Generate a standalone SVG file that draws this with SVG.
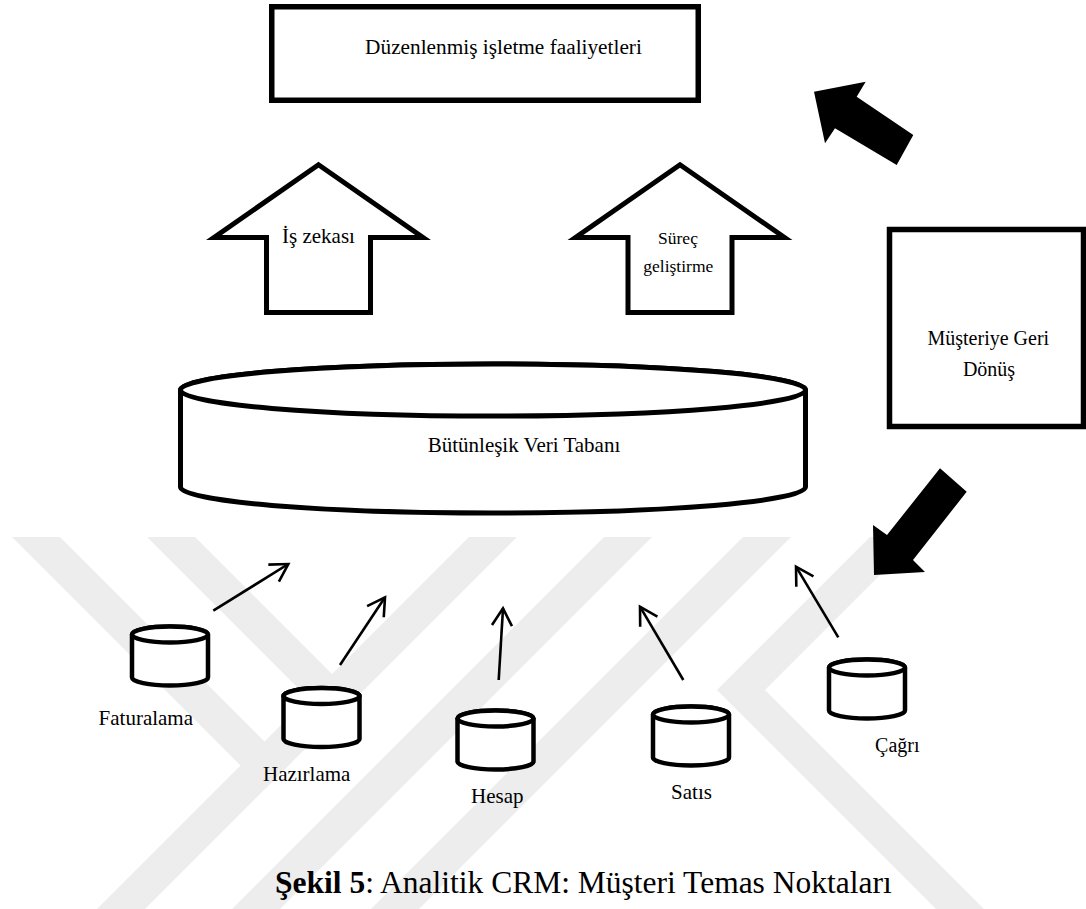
<svg xmlns="http://www.w3.org/2000/svg" xmlns:xlink="http://www.w3.org/1999/xlink" width="1086" height="909" viewBox="0 0 1086 909" font-family="'Liberation Serif', 'DejaVu Serif', serif">
  <style>
    .wm { fill: #ededed; }
    .frame { fill: #ffffff; stroke: #000000; stroke-width: 5.5; }
    .block { fill: #ffffff; stroke: #000000; stroke-width: 5; }
    .cyl { fill: #ffffff; stroke: #000000; stroke-width: 4.5; }
    .solid { fill: #000000; }
    .conn { fill: none; stroke: #000000; stroke-width: 2.6; marker-end: url(#open); }
    .lbl { font-family: 'Liberation Serif', 'DejaVu Serif', serif; fill: #000000; }
    .t21 { font-size: 21px; }
    .t20 { font-size: 20px; }
    .t17 { font-size: 17.5px; }
    .mid { text-anchor: middle; }
  </style>
  <defs>
    <marker id="open" markerUnits="userSpaceOnUse" markerWidth="24" markerHeight="24" viewBox="-20 -12 24 24" refX="0" refY="0" orient="auto">
      <path d="M-17.3,-10 L0,0 L-17.3,10" fill="none" stroke="#000000" stroke-width="2.6"/>
    </marker>
    <!-- small data store; origin at the centre of the top ellipse -->
    <g id="store">
      <path class="cyl" d="M-38,0 A38,8 0 0 1 38,0 L38,43 A38,8 0 0 1 -38,43 Z"/>
      <ellipse class="cyl" cx="0" cy="0" rx="38" ry="8"/>
    </g>
  </defs>

  <rect x="0" y="0" width="1086" height="909" fill="#ffffff"/>

  <!-- background stripes -->
  <g id="watermark">
    <polygon class="wm" points="469,537 517,537 145,909 97,909"/>
    <polygon class="wm" points="604,537 652,537 280,909 232,909"/>
    <polygon class="wm" points="743,537 791,537 419,909 371,909"/>
    <polygon class="wm" points="12,537 60,537 288.5,765.5 264.5,789.5"/>
    <polygon class="wm" points="147,537 195,537 356,698 332,722"/>
    <polygon class="wm" points="870,537 918,537 765,690 984,909 936,909 717,690"/>
  </g>

  <g id="activities">
    <rect class="frame" x="271.75" y="6.75" width="426.5" height="93.5"/>
    <text x="503.5" y="54" class="lbl mid" font-size="21.3">Düzenlenmiş işletme faaliyetleri</text>
  </g>

  <g id="business-intelligence">
    <polygon class="block" points="318.5,164.7 423,237.5 370.5,237.5 370.5,312.5 266.5,312.5 266.5,237.5 214,237.5"/>
    <text x="318.5" y="243.3" class="lbl mid t21">İş zekası</text>
  </g>

  <g id="process-improvement">
    <polygon class="block" points="680,164.7 784.5,237.5 732,237.5 732,312.5 628,312.5 628,237.5 575.5,237.5"/>
    <text x="678" y="244" class="lbl mid t17">Süreç</text>
    <text x="678.3" y="272" class="lbl mid t17">geliştirme</text>
  </g>

  <g id="integrated-db">
    <path class="block" d="M180.5,390 A312.5,26 0 0 1 805.5,390 L805.5,487 A312.5,26 0 0 1 180.5,487 Z"/>
    <ellipse class="block" cx="493" cy="390" rx="312.5" ry="26"/>
    <text x="524" y="452" class="lbl mid t21">Bütünleşik Veri Tabanı</text>
  </g>

  <g id="customer-return">
    <rect class="frame" x="889.5" y="229.5" width="194" height="197"/>
    <text x="988.3" y="345" class="lbl mid t20">Müşteriye Geri</text>
    <text x="989" y="376" class="lbl mid t20">Dönüş</text>
  </g>

  <g id="feedback-arrows">
    <polygon class="solid" points="814,91.7 865.7,81.7 856.7,96.7 913.3,135 896.7,165 835,128.3 825,143.3"/>
    <polygon class="solid" points="940,468.3 966.7,491.7 913,560 925,572 874,575 873,525 887,535"/>
  </g>

  <g id="billing">
    <use xlink:href="#store" href="#store" x="170" y="634.5"/>
    <text x="145.8" y="725" class="lbl mid t21">Faturalama</text>
  </g>
  <g id="provisioning">
    <use xlink:href="#store" href="#store" x="321.5" y="696"/>
    <text x="306.7" y="781" class="lbl mid t21">Hazırlama</text>
  </g>
  <g id="account">
    <use xlink:href="#store" href="#store" x="495.5" y="718.5"/>
    <text x="497.3" y="803.3" class="lbl mid t21">Hesap</text>
  </g>
  <g id="sales">
    <use xlink:href="#store" href="#store" x="691" y="714.5"/>
    <text x="691.5" y="799" class="lbl mid t21">Satıs</text>
  </g>
  <g id="call">
    <use xlink:href="#store" href="#store" x="867" y="667.5"/>
    <text x="897.3" y="752" class="lbl mid t20">Çağrı</text>
  </g>

  <g id="connectors">
    <line class="conn" x1="213.3" y1="610.7" x2="288.3" y2="564"/>
    <line class="conn" x1="340" y1="665" x2="385" y2="597.3"/>
    <line class="conn" x1="498.7" y1="680" x2="503" y2="608.3"/>
    <line class="conn" x1="683.3" y1="680" x2="640" y2="606.7"/>
    <line class="conn" x1="838.3" y1="637.3" x2="796" y2="566.7"/>
  </g>

  <g id="caption">
    <text x="275" y="893" class="lbl" font-size="31.5"><tspan font-weight="bold">Şekil 5</tspan>: Analitik CRM: Müşteri Temas Noktaları</text>
  </g>
</svg>
